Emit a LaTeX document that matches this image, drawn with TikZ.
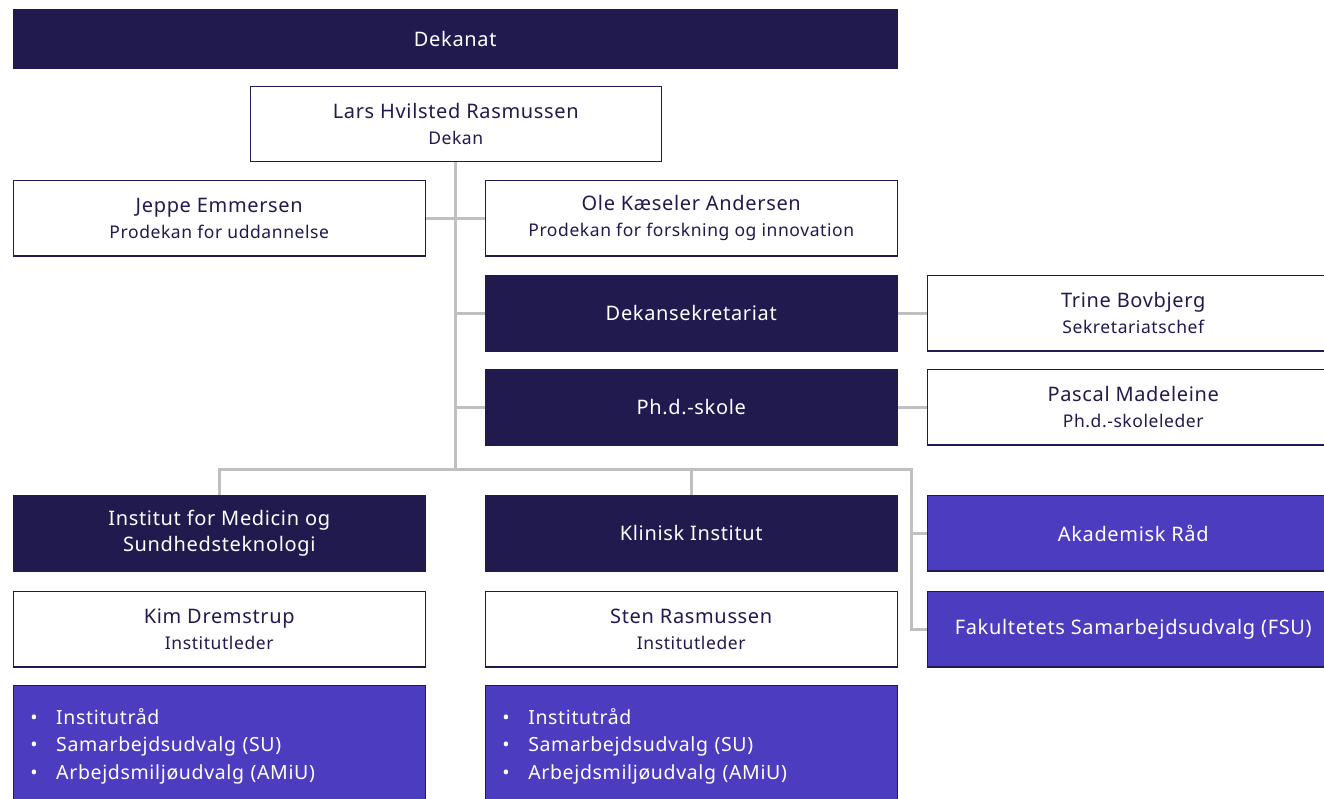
\documentclass[tikz,border=0pt]{standalone}
\usepackage{fontspec}
\setmainfont[LetterSpace=3.3]{Noto Sans}
\usetikzlibrary{backgrounds}
\definecolor{navy}{HTML}{211A4F}
\definecolor{purp}{HTML}{4B3CC0}
\definecolor{conn}{HTML}{C0C0C0}
\newcommand\twoline[2]{#1\\{\fontsize{17.5}{26}\selectfont #2}}
\begin{document}
\begin{tikzpicture}[x=1pt,y=-1pt,
  box/.style={draw=navy, line width=1.5pt, minimum width=412pt, minimum height=75.5pt,
    anchor=north west, inner sep=0pt, align=center, font=\fontsize{20}{26}\selectfont},
  wbox/.style={box, fill=white, text=navy},
  dbox/.style={box, fill=navy, text=white},
  pbox/.style={box, fill=purp, text=white},
  listbox/.style={pbox, align=left, text width=378pt, inner xsep=17pt, minimum height=122pt,
    font=\fontsize{19.5}{27.5}\selectfont},
  conn/.style={draw=conn, line width=3pt}]
\useasboundingbox (0,0) rectangle (1324,798);

\node[dbox, minimum width=884pt, minimum height=59pt] (dekanat) at (12.5,8.5) {Dekanat};
\node[wbox, minimum width=411pt, minimum height=75pt] (lars) at (249.5,85.5) {\twoline{Lars Hvilsted Rasmussen}{Dekan}};
\node[wbox] (jeppe) at (12.5,179.5) {\twoline{Jeppe Emmersen}{Prodekan for uddannelse}};
\node[wbox] (ole) at (484.5,179.5) {\twoline{Ole Kæseler Andersen}{Prodekan for forskning og innovation}};
\node[dbox] (sekr) at (484.5,274.5) {Dekansekretariat};
\node[wbox] (trine) at (926.5,274.5) {\twoline{Trine Bovbjerg}{Sekretariatschef}};
\node[dbox] (phd) at (484.5,368.5) {Ph.d.-skole};
\node[wbox] (pascal) at (926.5,368.5) {\twoline{Pascal Madeleine}{Ph.d.-skoleleder}};
\node[dbox] (inst) at (12.5,494.5) {Institut for Medicin og\\Sundhedsteknologi};
\node[dbox] (klin) at (484.5,494.5) {Klinisk Institut};
\node[pbox] (akad) at (926.5,494.5) {Akademisk Råd};
\node[wbox] (kim) at (12.5,590.5) {\twoline{Kim Dremstrup}{Institutleder}};
\node[wbox] (sten) at (484.5,590.5) {\twoline{Sten Rasmussen}{Institutleder}};
\node[pbox] (fsu) at (926.5,590.5) {Fakultetets Samarbejdsudvalg (FSU)};
\node[listbox] (list1) at (12.5,684.5) {\makebox[26pt][l]{•}Institutråd\\\makebox[26pt][l]{•}Samarbejdsudvalg (SU)\\\makebox[26pt][l]{•}Arbejdsmiljøudvalg (AMiU)};
\node[listbox] (list2) at (484.5,684.5) {\makebox[26pt][l]{•}Institutråd\\\makebox[26pt][l]{•}Samarbejdsudvalg (SU)\\\makebox[26pt][l]{•}Arbejdsmiljøudvalg (AMiU)};

\coordinate (bus) at (454,469);
\coordinate (rx) at (911,469);
\begin{pgfonlayer}{background}
\draw[conn] (lars.south) -- (lars.south |- bus);
\draw[conn] (jeppe.east) -- (ole.west);
\draw[conn] (sekr.west -| bus) -- (sekr.west);
\draw[conn] (phd.west -| bus) -- (phd.west);
\draw[conn] (sekr.east) -- (trine.west);
\draw[conn] (phd.east) -- (pascal.west);
\draw[conn] (inst.north) |- (rx) |- (fsu.west);
\draw[conn] (klin.north) -- (klin.north |- bus);
\draw[conn] (akad.west) -- (akad.west -| rx);
\end{pgfonlayer}
\end{tikzpicture}
\end{document}
